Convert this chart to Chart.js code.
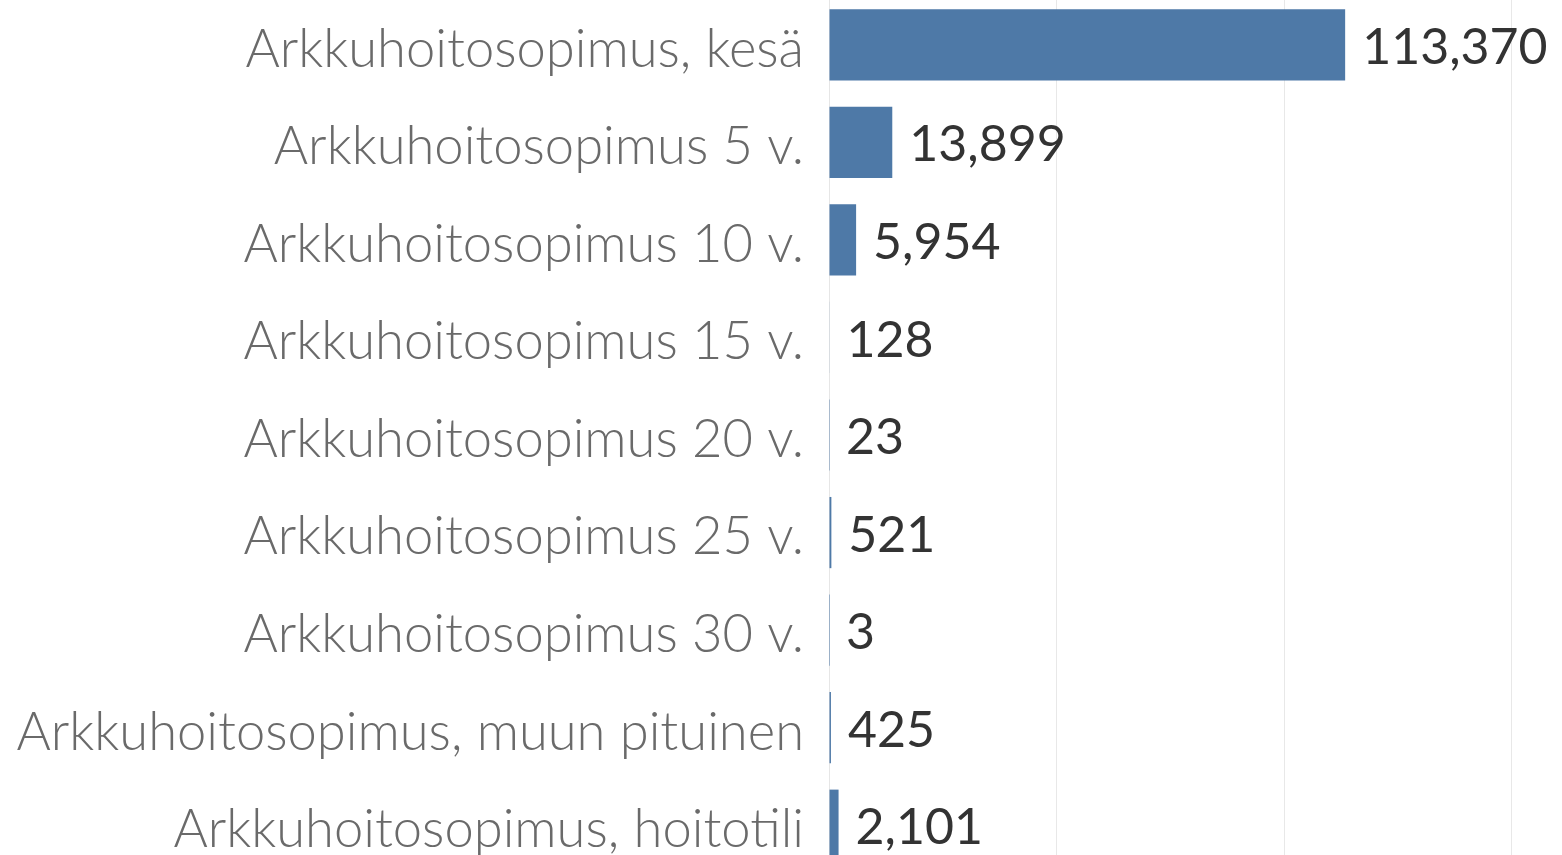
<!DOCTYPE html>
<html>
<head>
<meta charset="utf-8">
<script src="https://cdn.jsdelivr.net/npm/chart.js@4"></script>
<style>
  html, body { margin: 0; padding: 0; background: #fff; overflow: hidden; }
  #wrap { position: absolute; left: 0; top: -4px; width: 1562px; height: 878px; }
</style>
</head>
<body>
<div id="wrap"><canvas id="chart"></canvas></div>
<script>
const categories = [
    'Arkkuhoitosopimus, kesä',
    'Arkkuhoitosopimus 5 v.',
    'Arkkuhoitosopimus 10 v.',
    'Arkkuhoitosopimus 15 v.',
    'Arkkuhoitosopimus 20 v.',
    'Arkkuhoitosopimus 25 v.',
    'Arkkuhoitosopimus 30 v.',
    'Arkkuhoitosopimus, muun pituinen',
    'Arkkuhoitosopimus, hoitotili'
];
const counts = [113370, 13899, 5954, 128, 23, 521, 3, 425, 2101];
const axisMax = 161000;
const gridTicks = [0, 50000, 100000, 150000];

// value labels at the end of each bar
const valueLabels = {
    id: 'valueLabels',
    afterDatasetsDraw(chart) {
        const ctx = chart.ctx;
        const meta = chart.getDatasetMeta(0);
        ctx.save();
        ctx.font = '400 50px Lato';
        ctx.fillStyle = '#333333';
        ctx.textAlign = 'left';
        ctx.textBaseline = 'middle';
        meta.data.forEach((bar, i) => {
            ctx.fillText(counts[i].toLocaleString('en-US'), bar.x + 17, bar.y + 3);
        });
        ctx.restore();
    }
};

const chart = new Chart(
    document.getElementById('chart'),
    {
        type: 'bar',
        data: {
            labels: categories,
            datasets: [{
                data: counts,
                backgroundColor: '#4e79a7',
                borderWidth: 0,
                barPercentage: 0.73,
                categoryPercentage: 1
            }]
        },
        options: {
            indexAxis: 'y',
            responsive: true,
            maintainAspectRatio: false,
            animation: false,
            layout: { padding: 0 },
            plugins: {
                legend: { display: false },
                tooltip: { enabled: false }
            },
            scales: {
                x: {
                    min: 0,
                    max: axisMax,
                    ticks: { display: false },
                    grid: { color: '#e8e8e8', drawTicks: false },
                    border: { display: false },
                    afterBuildTicks: function(scale) {
                        scale.ticks = gridTicks.map(v => ({ value: v }));
                    },
                    afterFit: function(scale) {
                        scale.height = 0;
                        scale.paddingLeft = 0;
                        scale.paddingRight = 0;
                    }
                },
                y: {
                    grid: { display: false, drawTicks: false },
                    border: { display: true, color: '#e6e6e6' },
                    ticks: {
                        padding: 25,
                        labelOffset: 5,
                        color: '#6a6a6a',
                        font: { family: 'Lato', size: 52.5, weight: '300' }
                    },
                    afterFit: function(scale) {
                        scale.width = 829;
                        scale.paddingTop = 0;
                        scale.paddingBottom = 0;
                    }
                }
            }
        },
        plugins: [valueLabels]
    }
);
</script>
</body>
</html>
